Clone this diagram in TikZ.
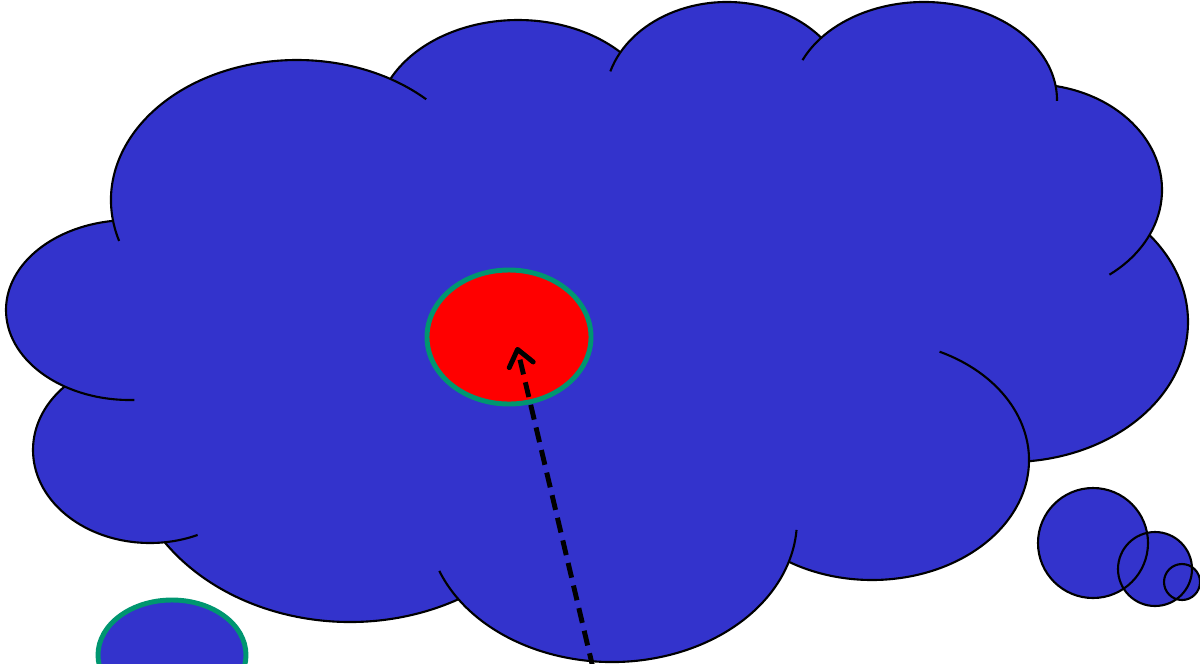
\documentclass[tikz,border=0pt]{standalone}
\usepackage{tikz}
\usetikzlibrary{arrows.meta}
\definecolor{cloudblue}{RGB}{51,51,204}
\definecolor{rimgreen}{RGB}{0,150,112}
\definecolor{hotred}{RGB}{255,0,0}
\tikzset{
  puff/.style={fill=cloudblue},
  puffline/.style={draw=black,line width=0.6pt},
  rim/.style={draw=rimgreen,line width=1.4pt},
  pointer/.style={-{Straight Barb[round,length=4.5pt,width=7pt]},line width=1.4pt,
    dash pattern=on 4.3pt off 2.3pt,color=black}
}
% puff centre / radii / visible arc, in pixels
\def\puffs{297/200/186/140/163/314, 130/310/124/90/88/262, 150/450/117/93/223/66,
  350/440/224/182/146/61, 612/520/185/142/159/4, 872/460/157/120/-64.5/122,
  1010/322/178/140/-38.5/84, 1030/190/132/106/-79/53, 924/100/133/98/204/360.5,
  727/100/122/98/197/320.5, 518/125/142/105/206/316}

\begin{document}
\begin{tikzpicture}[x=0.01cm,y=-0.01cm]
  \useasboundingbox (0,0) rectangle (1200,663);
  \clip (0,0) rectangle (1200,663);

  \foreach \cx/\cy/\rx/\ry/\ta/\tb in \puffs
    \fill[puff] (\cx,\cy) ellipse[x radius=\rx, y radius=\ry];
  \fill[puff] (112,222) -- (65,388) -- (165,542) -- (457,600) -- (788,562) -- (1029,460)
    -- (1149,235) -- (1056,85) -- (822,37) -- (620,52) -- (390,79) -- cycle;
  \foreach \cx/\cy/\rx/\ry/\ta/\tb in \puffs
    \draw[puffline] ([shift={(\ta:{\rx} and {\ry})}]\cx,\cy)
      arc[start angle=\ta, end angle=\tb, x radius=\rx, y radius=\ry];

  % tail bubbles
  \fill[puff] (1093,543) circle[radius=55];
  \fill[puff] (1155,569) circle[radius=37];
  \fill[puff] (1182,582) circle[radius=18];
  \draw[puffline] (1093,543) circle[radius=55];
  \draw[puffline] (1155,569) circle[radius=37];
  \draw[puffline] (1182,582) circle[radius=18];

  \filldraw[rim,fill=hotred] (509,337) ellipse[x radius=82, y radius=67];
  \filldraw[rim,fill=cloudblue] (172,655) ellipse[x radius=74, y radius=55];

  \coordinate (tail) at (593,668);
  \coordinate (tip)  at (517,347);
  \draw[pointer] (tail) -- (tip);
\end{tikzpicture}
\end{document}
